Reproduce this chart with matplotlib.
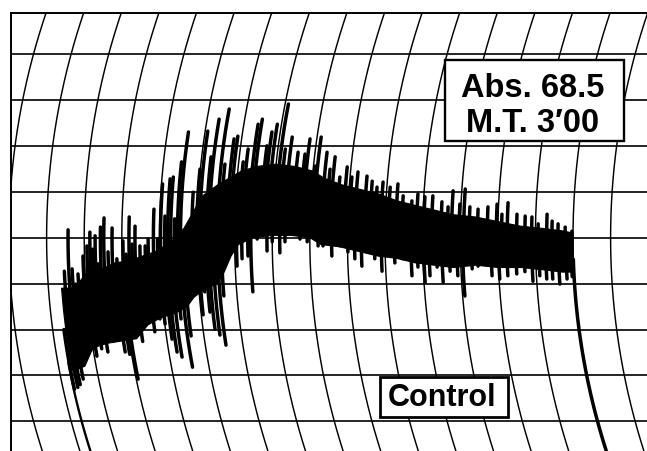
import numpy as np
import matplotlib
matplotlib.use("Agg")
import matplotlib.pyplot as plt
from matplotlib.collections import LineCollection
from matplotlib.patches import Rectangle

# ---------------------------------------------------------------------------
# Chart paper geometry (measured on the scan, in pixels)
# ---------------------------------------------------------------------------
PX_PER_MIN = 37.6      # spacing of the time arcs
PX_PER_PCT = 4.593     # 10 % = one horizontal division
ARC_RADIUS = 700.0     # radius of the pen arcs
ARC_CENTRE = 50.0      # level where the arcs are vertical

arc_minutes = np.arange(0, 18)
grid_levels = np.arange(10, 100, 10)
paper_left = 0.05
paper_top = 99.0

# ---------------------------------------------------------------------------
# Trace: minutes / % of full scale
# ---------------------------------------------------------------------------
# solid body of the trace
body_t = [1.35, 1.70, 2.00, 2.40, 2.80, 3.20, 3.55, 3.90, 4.30, 4.65, 4.85,
          5.10, 5.50, 5.70, 5.90, 6.10, 6.50, 7.00, 7.50, 8.00, 8.30, 8.80,
          9.30, 9.80, 10.30, 10.80, 11.30, 11.80, 12.40, 13.00, 13.60, 14.20,
          14.70, 15.00]
body_top = [39, 39, 42, 43, 44.5, 45, 46, 47, 49, 52, 55,
            59, 61.5, 62.5, 63.5, 64.5, 65.5, 66, 65.5, 64.5, 63, 61.5,
            60.5, 59.5, 58, 57, 56, 55, 54.5, 53.5, 52.5, 52,
            51.5, 51]
body_bot = [21, 22, 26, 27, 27.5, 28, 31, 32.5, 33.5, 35, 37,
            38.5, 40, 42.5, 46, 48.5, 50, 50.5, 50.5, 50, 48.5, 48,
            47, 46, 45.5, 44.5, 44, 43.5, 44, 43.5, 43.5, 43,
            42.5, 42.5]

# upper swings
peak_t = [1.45, 1.57, 1.66, 1.73, 1.81, 1.96, 2.07, 2.15, 2.22, 2.29, 2.36,
          2.43, 2.52, 2.63, 2.74, 2.86, 3.03, 3.11, 3.19, 3.27, 3.35, 3.48,
          3.62, 3.70, 3.84, 3.95, 4.03, 4.14, 4.22, 4.30, 4.40, 4.48, 4.56,
          4.86, 4.99, 5.07, 5.25, 5.32, 5.54, 5.64, 5.80, 5.89, 6.12, 6.21,
          6.38, 6.47, 6.70, 6.78, 6.89, 7.09, 7.20, 7.34, 7.55, 7.74, 7.82,
          8.04, 8.11, 8.32, 8.45, 8.55, 8.73, 8.90, 9.05, 9.20, 9.45, 9.60,
          9.74, 9.89, 10.09, 10.29, 10.45, 10.69, 10.84, 11.03, 11.24, 11.49,
          11.66, 11.77, 11.97, 12.09, 12.24, 12.46, 12.72, 12.96, 13.10,
          13.25, 13.50, 13.72, 13.90, 14.07, 14.30, 14.44, 14.60, 14.79,
          14.97]
peak_v = [42.7, 51.7, 43.2, 39.9, 42.1, 46.0, 48.2, 51.2, 47.5, 50.4, 44.3,
          52.3, 54.3, 46.9, 52.1, 45.4, 49.3, 46.4, 54.5, 48.6, 52.5, 48.2,
          48.2, 49.7, 56.2, 49.7, 61.7, 54.7, 62.8, 63.2, 54.1, 66.5, 73.0,
          59.9, 64.9, 73.2, 67.6, 75.8, 78.0, 66.0, 71.5, 72.1, 66.5, 69.3,
          74.7, 75.8, 70.0, 73.0, 74.7, 79.1, 69.3, 71.9, 68.6, 68.2, 71.5,
          65.6, 71.9, 68.6, 64.9, 67.6, 63.2, 65.4, 63.2, 64.3, 63.4, 62.3,
          61.0, 62.1, 61.0, 61.7, 59.1, 58.0, 59.5, 58.9, 59.1, 57.8,
          56.7, 60.2, 57.3, 60.6, 56.7, 56.2, 56.7, 57.3, 55.1,
          57.6, 55.1, 54.7, 54.5, 53.0, 55.1, 53.6, 53.0, 52.3,
          51.4]

# lower swings
dip_t = [1.30, 1.40, 1.48, 1.59, 1.83, 1.97, 2.07, 2.23, 2.38, 2.56, 2.72,
         2.84, 2.95, 3.05, 3.35, 3.58, 3.71, 3.89, 4.01, 4.14, 4.22, 4.33,
         4.45, 4.56, 4.66, 5.05, 5.15, 5.24, 5.32, 5.43, 5.55, 5.65, 5.93,
         6.05, 6.19, 6.35, 6.43, 6.60, 6.86, 7.00, 7.20, 7.34, 7.55, 7.74,
         7.93, 8.06, 8.22, 8.35, 8.58, 8.80, 9.01, 9.19, 9.37, 9.55, 9.72,
         9.90, 10.05, 10.25, 10.47, 10.69, 10.86, 11.03, 11.17, 11.37, 11.51,
         11.71, 11.91, 12.06, 12.30, 12.46, 12.65, 12.82, 13.02, 13.24,
         13.48, 13.70, 13.90, 14.09, 14.27, 14.43, 14.61, 14.81, 14.95]
dip_v = [17.0, 17.4, 18.0, 19.2, 25.3, 25.8, 24.2, 25.8, 25.1, 27.4, 29.0,
         25.1, 24.6, 19.2, 27.4, 32.9, 29.5, 32.3, 31.2, 27.9, 25.1, 24.0,
         32.3, 21.8, 28.6, 33.2, 38.2, 33.8, 30.1, 28.8, 26.6, 37.3, 49.1,
         43.8, 45.4, 46.0, 38.2, 49.7, 47.1, 49.1, 46.7, 49.1, 51.9, 49.7,
         49.1, 50.4, 48.2, 48.2, 46.0, 48.2, 46.9, 45.4, 43.8, 46.9, 45.4,
         42.7, 46.9, 44.5, 45.4, 41.7, 43.6, 40.3, 41.7, 43.6, 40.3,
         42.7, 41.7, 37.3, 43.2, 43.8, 44.3, 41.7, 41.0, 41.7,
         42.1, 42.6, 40.5, 41.7, 41.0, 41.0, 39.9, 41.0, 41.5]

trace_start = 1.28   # pen lowered
trace_end = 15.0     # pen lifted

abs_label = "Abs. 68.5"
mt_label = "M.T. 3\u203200"
sample_label = "Control"


def bend(t, v):
    """Move a (minute, %) point onto the curved pen arc."""
    dy = (np.asarray(v, dtype=float) - ARC_CENTRE) * PX_PER_PCT
    return np.asarray(t, dtype=float) + (ARC_RADIUS - np.sqrt(ARC_RADIUS**2 - dy**2)) / PX_PER_MIN


def arc_path(t, v0, v1, n=40):
    v = np.linspace(v0, v1, n)
    return bend(np.full(n, t), v), v


fig = plt.figure(figsize=(6.47, 4.52), dpi=100)
fig.patch.set_facecolor("white")
ax = fig.add_axes([0, 0, 1, 1])
ax.set_xlim(-9 / PX_PER_MIN, 638 / PX_PER_MIN)
ax.set_ylim(3.55, 101.96)
ax.axis("off")

# --- chart paper -----------------------------------------------------------
clip = Rectangle((paper_left, -10), 40, paper_top + 10, transform=ax.transData)
for m in arc_minutes:
    xs, vs = arc_path(m, -5, paper_top, 200)
    ln, = ax.plot(xs, vs, color="black", lw=1.05, zorder=1)
    ln.set_clip_path(clip)

ax.hlines(grid_levels, paper_left, 20, color="black", lw=1.2, zorder=1)
ax.plot([paper_left, paper_left], [-5, paper_top], color="black", lw=1.4, zorder=1)
ax.plot([paper_left, 20], [paper_top, paper_top], color="black", lw=1.4, zorder=1)

# --- trace -----------------------------------------------------------------
bt = np.array(body_t)
tp = np.array(body_top)
bm = np.array(body_bot)
n_edge = 15
pt = np.concatenate([bt, np.full(n_edge, bt[-1]), bt[::-1], np.full(n_edge, bt[0])])
pv = np.concatenate([tp, np.linspace(tp[-1], bm[-1], n_edge), bm[::-1],
                     np.linspace(bm[0], tp[0], n_edge)])
ax.fill(bend(pt, pv), pv, facecolor="black", edgecolor="black", lw=0.8, zorder=3)

segs = []
for t, v in zip(peak_t + dip_t, peak_v + dip_v):
    mid = (np.interp(t, bt, tp) + np.interp(t, bt, bm)) / 2
    xs, vs = arc_path(t, mid, v, 12)
    segs.append(np.column_stack([xs, vs]))
ax.add_collection(LineCollection(segs, colors="black", linewidths=2.5,
                                 capstyle="round", zorder=3))

xs, vs = arc_path(trace_start, 0, np.interp(trace_start, bt, bm) + 2)
ax.plot(xs, vs, color="black", lw=1.7, zorder=3, solid_capstyle="butt")
xs, vs = arc_path(trace_end, 0, np.interp(trace_end, bt, bm) + 3)
ax.plot(xs, vs, color="black", lw=2.5, zorder=3, solid_capstyle="butt")

# --- labels ----------------------------------------------------------------
W, H = 647, 452
font = ["Liberation Sans", "DejaVu Sans"]

fig.patches.append(Rectangle((445 / W, 1 - 142 / H), 179 / W, 81 / H,
                             transform=fig.transFigure, facecolor="white",
                             edgecolor="black", lw=1.7, zorder=5))
fig.text(533 / W, 1 - 97 / H, abs_label, ha="center", va="baseline",
         fontsize=23.5, fontweight="bold", family=font, zorder=6)
fig.text(533 / W, 1 - 132 / H, mt_label, ha="center", va="baseline",
         fontsize=23.5, fontweight="bold", family=font, zorder=6)

fig.patches.append(Rectangle((380 / W, 1 - 418 / H), 128 / W, 40 / H,
                             transform=fig.transFigure, facecolor="white",
                             edgecolor="black", lw=2.0, zorder=5))
fig.text(442 / W, 1 - 406 / H, sample_label, ha="center", va="baseline",
         fontsize=22, fontweight="bold", family=font, zorder=6)

fig.savefig("out.png", dpi=100, facecolor="white")
